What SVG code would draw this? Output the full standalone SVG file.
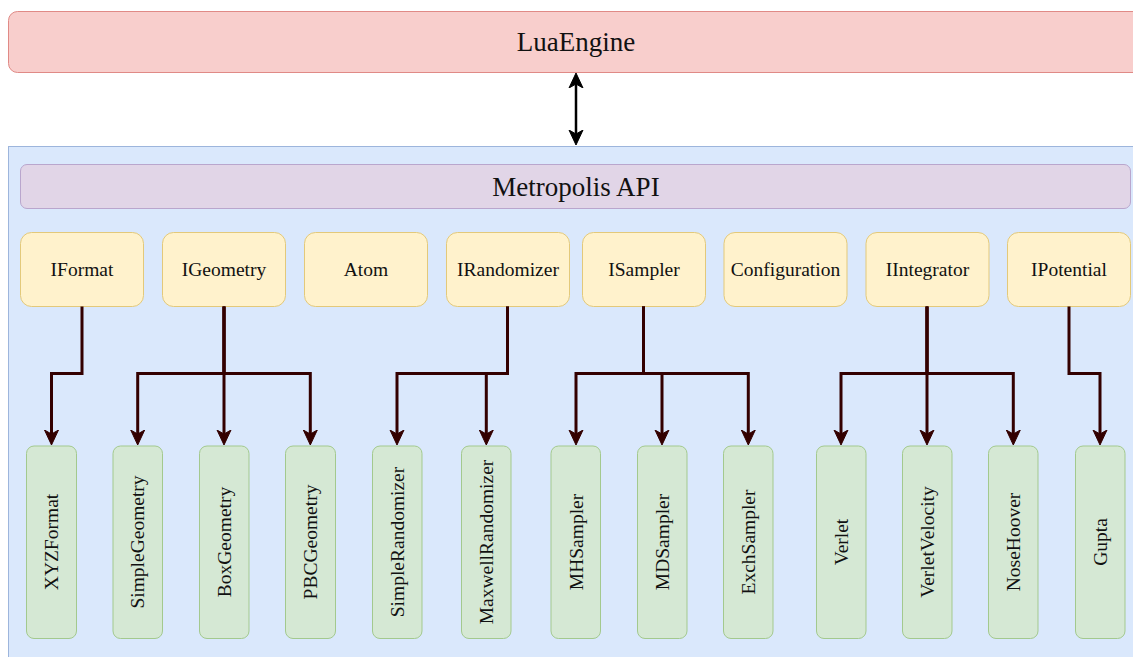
<svg xmlns="http://www.w3.org/2000/svg" width="1133" height="657" viewBox="0 0 1133 657">
<defs>
<style>
text{font-family:"Liberation Serif","Times New Roman",serif;fill:#111;text-anchor:middle;dominant-baseline:central}
.big{font-size:27px}
.lbl{font-size:19.5px}
.yel{fill:#fff2cc;stroke:#e3c97a;stroke-width:1}
.grn{fill:#d5e8d4;stroke:#a3c98e;stroke-width:1}
.conn{fill:none;stroke:#330000;stroke-width:3;marker-end:url(#ah)}
</style>
<marker id="ah" markerUnits="userSpaceOnUse" markerWidth="20" markerHeight="20" refX="4" refY="8" orient="auto" viewBox="0 0 20 16">
<path d="M0,1 L15,8 L0,15 L4,8 Z" fill="#330000" stroke="#330000" stroke-width="1"/>
</marker>
<marker id="ahb" markerUnits="userSpaceOnUse" markerWidth="20" markerHeight="20" refX="4" refY="8" orient="auto-start-reverse" viewBox="0 0 20 16">
<path d="M0,1 L15,8 L0,15 L4,8 Z" fill="#000" stroke="#000" stroke-width="1"/>
</marker>
</defs>
<rect width="1133" height="657" fill="#fff"/>
<g id="luaengine">
<rect x="8.5" y="11.5" width="1140" height="61" rx="9" fill="#f8cecc" stroke="#e08a86"/>
<text class="big" x="576" y="42">LuaEngine</text>
</g>
<g id="container">
<rect x="8.5" y="146.5" width="1140" height="520" fill="#dae8fc" stroke="#9db5dc"/>
</g>
<g id="metropolis-api">
<rect x="20.5" y="164.5" width="1110" height="44" rx="6.5" fill="#e1d5e7" stroke="#b9a6cd"/>
<text class="big" x="576" y="186.5">Metropolis API</text>
</g>
<g id="iformat"><rect class="yel" x="20.5" y="232.5" width="123" height="74" rx="11"/><text class="lbl" x="82" y="269.5">IFormat</text></g>
<g id="igeometry"><rect class="yel" x="162.5" y="232.5" width="123" height="74" rx="11"/><text class="lbl" x="224" y="269.5">IGeometry</text></g>
<g id="atom"><rect class="yel" x="304.5" y="232.5" width="123" height="74" rx="11"/><text class="lbl" x="366" y="269.5">Atom</text></g>
<g id="irandomizer"><rect class="yel" x="446.5" y="232.5" width="123" height="74" rx="11"/><text class="lbl" x="508" y="269.5">IRandomizer</text></g>
<g id="isampler"><rect class="yel" x="582.5" y="232.5" width="123" height="74" rx="11"/><text class="lbl" x="644" y="269.5">ISampler</text></g>
<g id="configuration"><rect class="yel" x="724" y="232.5" width="123" height="74" rx="11"/><text class="lbl" x="785.5" y="269.5">Configuration</text></g>
<g id="iintegrator"><rect class="yel" x="866" y="232.5" width="123" height="74" rx="11"/><text class="lbl" x="927.5" y="269.5">IIntegrator</text></g>
<g id="ipotential"><rect class="yel" x="1007.5" y="232.5" width="123" height="74" rx="11"/><text class="lbl" x="1069" y="269.5">IPotential</text></g>

<g id="xyzformat"><rect class="grn" x="26.5" y="446" width="50" height="192.5" rx="7.5"/><text class="lbl" transform="translate(51.5,542) rotate(-90)">XYZFormat</text></g>
<g id="simplegeometry"><rect class="grn" x="113" y="446" width="49.5" height="192.5" rx="7.5"/><text class="lbl" transform="translate(137.7,542) rotate(-90)">SimpleGeometry</text></g>
<g id="boxgeometry"><rect class="grn" x="199.5" y="446" width="49.5" height="192.5" rx="7.5"/><text class="lbl" transform="translate(224,542) rotate(-90)">BoxGeometry</text></g>
<g id="pbcgeometry"><rect class="grn" x="285.5" y="446" width="50" height="192.5" rx="7.5"/><text class="lbl" transform="translate(310.3,542) rotate(-90)">PBCGeometry</text></g>
<g id="simplerandomizer"><rect class="grn" x="372.5" y="446" width="49.5" height="192.5" rx="7.5"/><text class="lbl" transform="translate(397,542) rotate(-90)">SimpleRandomizer</text></g>
<g id="maxwellrandomizer"><rect class="grn" x="461.5" y="446" width="49.5" height="192.5" rx="7.5"/><text class="lbl" transform="translate(486.3,542) rotate(-90)">MaxwellRandomizer</text></g>
<g id="mhsampler"><rect class="grn" x="551" y="446" width="49.5" height="192.5" rx="7.5"/><text class="lbl" transform="translate(576,542) rotate(-90)">MHSampler</text></g>
<g id="mdsampler"><rect class="grn" x="637.5" y="446" width="49.5" height="192.5" rx="7.5"/><text class="lbl" transform="translate(662,542) rotate(-90)">MDSampler</text></g>
<g id="exchsampler"><rect class="grn" x="723.5" y="446" width="49.5" height="192.5" rx="7.5"/><text class="lbl" transform="translate(748.3,542) rotate(-90)">ExchSampler</text></g>
<g id="verlet"><rect class="grn" x="816.5" y="446" width="49.5" height="192.5" rx="7.5"/><text class="lbl" transform="translate(841,542) rotate(-90)">Verlet</text></g>
<g id="verletvelocity"><rect class="grn" x="902.5" y="446" width="49.5" height="192.5" rx="7.5"/><text class="lbl" transform="translate(927,542) rotate(-90)">VerletVelocity</text></g>
<g id="nosehoover"><rect class="grn" x="988.5" y="446" width="49.5" height="192.5" rx="7.5"/><text class="lbl" transform="translate(1013.3,542) rotate(-90)">NoseHoover</text></g>
<g id="gupta"><rect class="grn" x="1075.5" y="446" width="49.5" height="192.5" rx="7.5"/><text class="lbl" transform="translate(1100,542) rotate(-90)">Gupta</text></g>

<g id="connectors">
<line x1="576" y1="84" x2="576" y2="134" stroke="#000" stroke-width="2.5" marker-start="url(#ahb)" marker-end="url(#ahb)"/>
<path class="conn" d="M82,306.5 V373.5 H51.5 V434"/>
<path class="conn" d="M224,306.5 V373.5 H137.7 V434"/>
<path class="conn" d="M224,306.5 V434"/>
<path class="conn" d="M224,306.5 V373.5 H310.3 V434"/>
<path class="conn" d="M507.5,306.5 V373.5 H397 V434"/>
<path class="conn" d="M507.5,306.5 V373.5 H486.3 V434"/>
<path class="conn" d="M643.5,306.5 V373.5 H576 V434"/>
<path class="conn" d="M643.5,306.5 V373.5 H662 V434"/>
<path class="conn" d="M643.5,306.5 V373.5 H748.3 V434"/>
<path class="conn" d="M927,306.5 V373.5 H841 V434"/>
<path class="conn" d="M927,306.5 V434"/>
<path class="conn" d="M927,306.5 V373.5 H1013.3 V434"/>
<path class="conn" d="M1069,306.5 V373.5 H1100 V434"/>
</g>
</svg>
